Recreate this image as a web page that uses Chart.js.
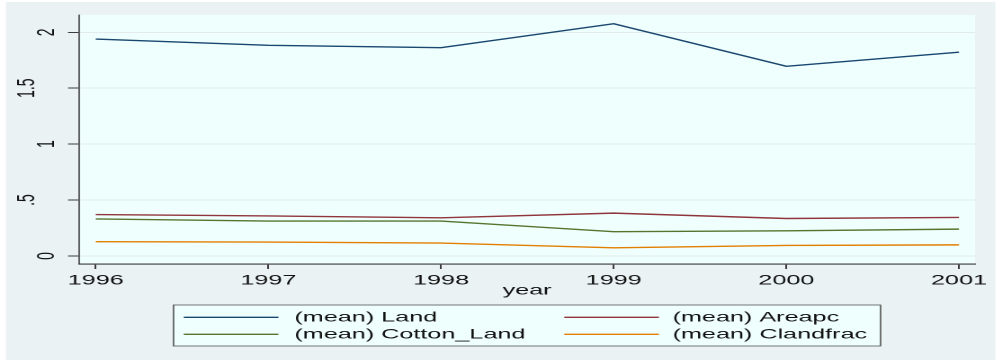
<!DOCTYPE html>
<html>
<head>
<meta charset="utf-8">
<title>Means by year</title>
<script src="https://cdn.jsdelivr.net/npm/chart.js@4.4.1/dist/chart.umd.min.js"></script>
<style>
  html, body { margin: 0; padding: 0; background: #fff; }
  /* the graph is laid out narrow and then widened, so the text comes out wide like the Stata export */
  #wrap { width: 557px; height: 360px; transform: scaleX(1.799); transform-origin: 0 0; }
</style>
</head>
<body>
<div id="wrap"><canvas id="means" width="557" height="360"></canvas></div>
<script>
'use strict'

// yearly means for each variable
var years = [1996, 1997, 1998, 1999, 2000, 2001];
var land = [1.940, 1.884, 1.863, 2.077, 1.696, 1.822];
var areapc = [0.370, 0.358, 0.341, 0.383, 0.335, 0.344];
var cottonLand = [0.331, 0.312, 0.312, 0.217, 0.225, 0.240];
var clandfrac = [0.128, 0.124, 0.115, 0.073, 0.094, 0.099];

var seriesNames = ['(mean) Land', '(mean) Areapc', '(mean) Cotton_Land', '(mean) Clandfrac'];
var seriesColors = ['#1a476f', '#90353b', '#55752f', '#e37e00'];

// y axis labels, Stata style
var yTicks = [0, 0.5, 1, 1.5, 2];
var yTickLabels = ['0', '.5', '1', '1.5', '2'];

var FONT = '"Liberation Sans", Arial, Helvetica, sans-serif';
var INK = '#111';
var AXIS = '#3c3c3c';

function points(values) {
    return years.map(function(yr, i) { return { x: yr, y: values[i] }; });
}

// grey graph region, tinted plot region
var backdrop = {
    id: 'backdrop',
    beforeDraw: function(chart) {
        var ctx = chart.ctx, a = chart.chartArea;
        ctx.save();
        ctx.fillStyle = '#ffffff';
        ctx.fillRect(0, 0, chart.width, chart.height);
        ctx.fillStyle = '#eaf2f3';
        ctx.fillRect(3.3, 2, 550, chart.height - 2);
        ctx.fillStyle = '#effffe';
        ctx.fillRect(a.left, a.top, a.right - a.left, a.bottom - a.top);
        ctx.restore();
    }
};

// vertical y labels, alternating between two columns
var yLabels = {
    id: 'yLabels',
    afterDraw: function(chart) {
        var ctx = chart.ctx, y = chart.scales.y, left = chart.chartArea.left;
        ctx.save();
        ctx.fillStyle = INK;
        ctx.font = '14px ' + FONT;
        ctx.textAlign = 'center';
        ctx.textBaseline = 'alphabetic';
        yTicks.forEach(function(v, i) {
            var px = y.getPixelForValue(v);
            var bx = (i % 2 === 0) ? left - 14 : left - 25;
            ctx.save();
            ctx.translate(bx, px);
            ctx.rotate(-Math.PI / 2);
            ctx.fillText(yTickLabels[i], 0, 0);
            ctx.restore();
        });
        ctx.restore();
    }
};

// boxed two-column legend under the axis title
var boxLegend = {
    id: 'boxLegend',
    afterDraw: function(chart) {
        var ctx = chart.ctx, a = chart.chartArea;
        var w = 393, cx = (a.left + a.right) / 2;
        var bx = cx - w / 2, by = 305, bh = 41;
        var rows = [317.3, 334.3];
        var cols = [{ line: 5.7, text: 67.2 }, { line: 217.2, text: 277.4 }];
        ctx.save();
        ctx.fillStyle = '#effffe';
        ctx.fillRect(bx, by, w, bh);
        ctx.strokeStyle = '#555';
        ctx.lineWidth = 0.8;
        ctx.strokeRect(bx, by, w, bh);
        ctx.font = '14px ' + FONT;
        ctx.textAlign = 'left';
        ctx.textBaseline = 'middle';
        chart.data.datasets.forEach(function(ds, i) {
            var c = cols[i % 2], ry = rows[Math.floor(i / 2)];
            ctx.strokeStyle = ds.borderColor;
            ctx.lineWidth = 1.4;
            ctx.beginPath();
            ctx.moveTo(bx + c.line, ry);
            ctx.lineTo(bx + c.line + 52.6, ry);
            ctx.stroke();
            ctx.fillStyle = INK;
            ctx.fillText(ds.label, bx + c.text, ry + 0.5);
        });
        ctx.restore();
    }
};

var series = [land, areapc, cottonLand, clandfrac];

var meansChart = new Chart(document.getElementById('means'), {
    type: 'line',
    data: {
        datasets: series.map(function(vals, i) {
            return {
                label: seriesNames[i],
                data: points(vals),
                borderColor: seriesColors[i],
                borderWidth: 1.4,
                pointRadius: 0,
                tension: 0,
                fill: false
            };
        })
    },
    plugins: [backdrop, yLabels, boxLegend],
    options: {
        responsive: false,
        animation: false,
        devicePixelRatio: 2,
        layout: { padding: { left: 3.9, right: 15, top: 15, bottom: 60 } },
        plugins: {
            legend: { display: false },
            tooltip: { enabled: false }
        },
        scales: {
            x: {
                type: 'linear',
                min: 1995.903,
                max: 2001.093,
                afterBuildTicks: function(scale) {
                    scale.ticks = years.map(function(v) { return { value: v }; });
                },
                afterFit: function(scale) { scale.height = 36; },
                ticks: {
                    autoSkip: false,
                    maxRotation: 0,
                    padding: 3,
                    color: INK,
                    font: { family: FONT, size: 14 },
                    callback: function(v) { return String(v); }
                },
                grid: { drawOnChartArea: false, tickLength: 5, tickColor: AXIS },
                border: { color: AXIS, width: 1.1 },
                title: {
                    display: true,
                    text: 'year',
                    color: INK,
                    font: { family: FONT, size: 14 },
                    padding: { top: 0, bottom: 1 }
                }
            },
            y: {
                min: -0.072,
                max: 2.155,
                afterBuildTicks: function(scale) {
                    scale.ticks = yTicks.map(function(v) { return { value: v }; });
                },
                afterFit: function(scale) { scale.width = 40; },
                ticks: { display: false },
                grid: { color: '#e1ebed', lineWidth: 1, tickLength: 6.1, tickColor: AXIS },
                border: { color: AXIS, width: 0.8 }
            }
        }
    }
});
</script>
</body>
</html>
